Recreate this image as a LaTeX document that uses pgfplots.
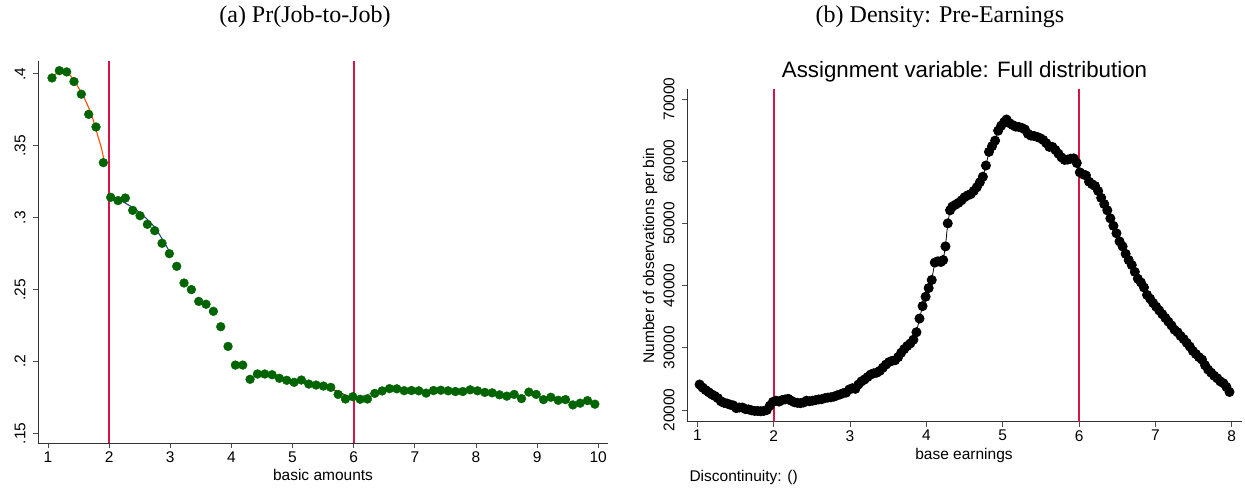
\documentclass[border=0pt]{standalone}
\usepackage{fontspec}
\setmainfont{Liberation Sans}
\newfontfamily\titlefont{Liberation Serif}
\usepackage{pgfplots}
\pgfplotsset{compat=1.18}

\definecolor{dkgreen}{RGB}{0,100,0}
\definecolor{cutred}{RGB}{215,20,70}
\definecolor{fitorange}{RGB}{255,80,0}
\definecolor{fitnavy}{RGB}{30,70,130}
\definecolor{fitmaroon}{RGB}{150,30,40}
\definecolor{fitgray}{RGB}{120,130,140}

\newcommand{\lblfont}{\fontsize{15.5}{18}\selectfont}

\pgfplotsset{
  statastyle/.style={
    scale only axis,
    anchor=south west,
    axis x line*=bottom,
    axis y line*=left,
    axis line style={-, black!80, line width=0.9pt},
    tick align=outside,
    xtick pos=bottom,
    ytick pos=left,
    major tick length=5pt,
    tick style={black!70, line width=0.9pt},
    tick label style={font=\lblfont},
    /pgf/number format/assume math mode=true,
    yticklabel style={rotate=90, anchor=south},
    yticklabel shift=4pt,
    clip=false,
  },
  cutoff/.style={draw=cutred, line width=1.7pt, mark=none},
}

\begin{document}
\begin{tikzpicture}[x=1pt,y=1pt]
\fill[white] (0,0) rectangle (1245,491);
\useasboundingbox (0,0) rectangle (1245,491);

% Panel (a): job-to-job transition probability by bin
\begin{axis}[statastyle,
  at={(38pt,48pt)}, width=570pt, height=382pt,
  xmin=0.836, xmax=10.16, ymin=0.1433, ymax=0.409,
  xtick={1,2,...,10},
  ytick={0.15,0.2,0.25,0.3,0.35,0.4},
  yticklabels={.15,.2,.25,.3,.35,.4},
]
% cutoffs at 2 and 6 basic amounts
\addplot [cutoff] coordinates {(2,0.1433) (2,0.409)};
\addplot [cutoff] coordinates {(6,0.1433) (6,0.409)};
\addplot [only marks, mark=*, mark size=4.4pt, color=dkgreen, mark options={fill=dkgreen, draw=dkgreen}] coordinates {
(1.065,0.3972) (1.185,0.4023) (1.305,0.4014) (1.425,0.3947) (1.545,0.3859)
(1.665,0.3719) (1.785,0.3631) (1.905,0.3383) (2.025,0.3142) (2.145,0.3119)
(2.265,0.3137) (2.385,0.3051) (2.505,0.3014) (2.625,0.2954) (2.745,0.2910)
(2.865,0.2822) (2.985,0.2750) (3.105,0.2662) (3.225,0.2546) (3.345,0.2500)
(3.465,0.2418) (3.585,0.2398) (3.705,0.2349) (3.825,0.2242) (3.945,0.2105)
(4.065,0.1975) (4.185,0.1975) (4.305,0.1876) (4.425,0.1913) (4.545,0.1913)
(4.665,0.1908) (4.785,0.1883) (4.905,0.1869) (5.025,0.1855) (5.145,0.1871)
(5.265,0.1843) (5.385,0.1836) (5.505,0.1829) (5.625,0.1820) (5.745,0.1771)
(5.865,0.1739) (5.985,0.1755) (6.105,0.1737) (6.225,0.1739) (6.345,0.1778)
(6.465,0.1795) (6.585,0.1811) (6.705,0.1810) (6.825,0.1797) (6.945,0.1798)
(7.065,0.1796) (7.185,0.1780) (7.305,0.1798) (7.425,0.1800) (7.545,0.1796)
(7.665,0.1791) (7.785,0.1791) (7.905,0.1803) (8.025,0.1796) (8.145,0.1785)
(8.265,0.1782) (8.385,0.1768) (8.505,0.1759) (8.625,0.1771) (8.745,0.1742)
(8.865,0.1787) (8.985,0.1771) (9.105,0.1735) (9.225,0.1751) (9.345,0.1730)
(9.465,0.1735) (9.585,0.1698) (9.705,0.1710) (9.825,0.1728) (9.945,0.1703)
};
% local fits on either side of the cutoffs
\addplot [color=fitorange, line width=1.1pt, smooth, mark=none] coordinates {
(1.072,0.3986) (1.15,0.4005) (1.22,0.4012) (1.30,0.4003) (1.355,0.3993)
(1.44,0.3945) (1.519,0.3889) (1.60,0.3825) (1.68,0.3750) (1.75,0.3665)
(1.818,0.3564) (1.87,0.3490) (1.912,0.3407)};
\addplot [color=fitnavy, line width=1.1pt, smooth, mark=none] coordinates {
(2.03,0.3143) (2.25,0.3105) (2.5,0.3035) (2.75,0.2930) (3.0,0.2755)};
\addplot [color=fitmaroon, line width=1.1pt, smooth, mark=none] coordinates {
(5.037,0.1866) (5.34,0.1845) (5.665,0.1804) (5.99,0.1741)};
\addplot [color=fitgray, line width=1.1pt, smooth, mark=none] coordinates {
(6.0,0.1738) (6.32,0.1781) (6.646,0.1802) (6.95,0.1804)};
\end{axis}

% Panel (b): density of the assignment variable
\begin{axis}[statastyle,
  at={(687pt,69.3pt)}, width=554.7pt, height=332.7pt,
  xmin=0.865, xmax=8.13, ymin=18120, ymax=71600,
  xtick={1,2,...,8},
  ytick={20000,30000,...,70000},
  /pgf/number format/1000 sep={},
  scaled y ticks=false,
]
\addplot [cutoff] coordinates {(2,18120) (2,71600)};
\addplot [cutoff] coordinates {(6,18120) (6,71600)};
\addplot [color=black, line width=0.8pt, mark=*, mark size=4.6pt, mark options={fill=black}] coordinates {
(1.03,24100) (1.07,23600) (1.11,23200) (1.15,22850) (1.19,22500) (1.23,22250)
(1.27,21900) (1.31,21400) (1.35,21150) (1.39,21050) (1.43,20850) (1.47,20750)
(1.51,20300) (1.55,20400) (1.59,20400) (1.63,20150) (1.67,20100) (1.71,19950)
(1.75,19850) (1.79,19850) (1.83,19800) (1.87,19850) (1.91,20000) (1.95,20700)
(1.99,21300) (2.03,21500) (2.07,21350) (2.11,21600) (2.15,21700) (2.19,21800)
(2.23,21500) (2.27,21250) (2.31,21150) (2.35,21100) (2.39,21200) (2.43,21500)
(2.47,21400) (2.51,21500) (2.55,21600) (2.59,21700) (2.63,21750) (2.67,21900)
(2.71,22000) (2.75,22050) (2.79,22150) (2.83,22350) (2.87,22500) (2.91,22700)
(2.95,22800) (2.99,23300) (3.03,23500) (3.07,23400) (3.11,24100) (3.15,24600)
(3.19,24900) (3.23,25300) (3.27,25700) (3.31,25900) (3.35,26000) (3.39,26300)
(3.43,26800) (3.47,27300) (3.51,27700) (3.55,27900) (3.59,28000) (3.63,28500)
(3.67,29200) (3.71,29800) (3.75,30300) (3.79,30700) (3.83,31300) (3.87,32500)
(3.91,34700) (3.95,36700) (3.99,38200) (4.03,39600) (4.07,40900) (4.11,43700)
(4.15,43900) (4.19,43800) (4.22,44100) (4.25,46300) (4.28,50000) (4.31,52100)
(4.34,52700) (4.38,53000) (4.42,53300) (4.46,53700) (4.50,54200) (4.54,54500)
(4.58,54700) (4.62,55200) (4.66,55800) (4.70,56600) (4.74,57500) (4.78,59300)
(4.82,61500) (4.86,62400) (4.90,63300) (4.94,64900) (4.98,65700) (5.02,66300)
(5.05,66700) (5.09,66100) (5.13,65800) (5.17,65550) (5.21,65500) (5.25,65350)
(5.29,65100) (5.33,64400) (5.37,64100) (5.41,64050) (5.45,63900) (5.49,63700)
(5.53,63400) (5.57,62900) (5.61,62300) (5.65,62300) (5.69,61800) (5.73,61200)
(5.77,60600) (5.81,60200) (5.85,60250) (5.89,60400) (5.93,60450) (5.97,59700)
(6.01,58200) (6.05,57900) (6.09,57700) (6.13,56700) (6.17,56300) (6.21,56000)
(6.25,55200) (6.29,54100) (6.33,53100) (6.37,52100) (6.41,50800) (6.45,49600)
(6.49,48400) (6.53,47100) (6.57,46300) (6.61,45100) (6.65,44100) (6.69,43300)
(6.73,42200) (6.77,41100) (6.81,40500) (6.85,39700) (6.89,38500) (6.93,37900)
(6.97,37200) (7.01,36600) (7.05,36000) (7.09,35400) (7.13,34800) (7.17,34200)
(7.21,33600) (7.25,32900) (7.29,32500) (7.33,31900) (7.37,31400) (7.41,30800)
(7.45,30200) (7.49,29500) (7.53,29000) (7.57,28500) (7.61,28100) (7.65,27200)
(7.69,26500) (7.73,26000) (7.77,25500) (7.81,25100) (7.85,24600) (7.89,24300)
(7.93,23700) (7.97,22900)
};
\end{axis}

% Panel titles and labels
\node[font=\titlefont\fontsize{24}{28}\selectfont] at (305,474) {(a) Pr(Job-to-Job)};
\node[font=\titlefont\fontsize{24}{28}\selectfont] at (940,474) {(b) Density: Pre-Earnings};
\node[font=\fontsize{22.3}{26}\selectfont] at (964.5,419) {Assignment variable: Full distribution};
\node[font=\lblfont] at (323,16) {basic amounts};
\node[font=\lblfont] at (964,36) {base earnings};
\node[font=\lblfont, rotate=90] at (650,235.5) {Number of observations per bin};
\node[font=\lblfont, anchor=west] at (686,13.3) {Discontinuity: ()};
\end{tikzpicture}
\end{document}
